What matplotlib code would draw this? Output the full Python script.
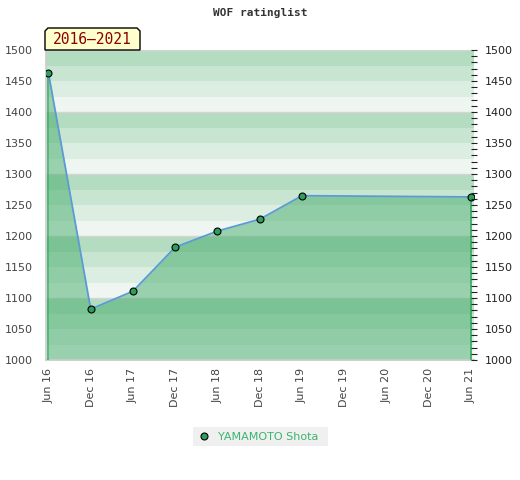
import matplotlib
matplotlib.use("Agg")
import matplotlib.pyplot as plt
from matplotlib.patches import Polygon, Rectangle
from matplotlib.lines import Line2D

# ---- data ----
tick_labels = ["Jun 16", "Dec 16", "Jun 17", "Dec 17", "Jun 18", "Dec 18",
               "Jun 19", "Dec 19", "Jun 20", "Dec 20", "Jun 21"]
point_idx = [0, 1, 2, 3, 4, 5, 6, 10]
ratings = [1463, 1082, 1111, 1182, 1208, 1227, 1265, 1263]
player = "YAMAMOTO Shota"
period = "2016\u20132021"
title = "WOF ratinglist"
y_min, y_max = 1000, 1500

W, H = 520, 480
fig = plt.figure(figsize=(W / 100, H / 100), dpi=100)
fig.patch.set_facecolor("white")

def fx(px):
    return px / W

def fy(py):
    return 1 - py / H

ax = fig.add_axes([fx(45.5), fy(360), fx(474) - fx(45.5), fy(50) - fy(360)])
ax.set_xlim(-0.07, 10.07)
ax.set_ylim(y_min, y_max)

# background bands (25-unit, 4 shades per 100)
shades = ["#eff6f1", "#dcede2", "#c8e5d2", "#b3dcc0"]
for b0 in range(y_min, y_max, 25):
    k = ((b0 - y_min) // 25) % 4
    ax.axhspan(b0, b0 + 25, color=shades[k], lw=0, zorder=0)
for g in range(y_min + 100, y_max + 1, 100):
    ax.axhline(g, color="#d4d4d4", lw=1, zorder=1)

# fill under the line
ax.fill_between(point_idx, ratings, y_min, color=(69 / 255, 172 / 255, 106 / 255),
                alpha=0.5, lw=0, zorder=2)
ax.vlines([point_idx[0], point_idx[-1]], y_min, [ratings[0], ratings[-1]],
          color="#2eaa5a", lw=1.1, zorder=3)
ax.plot(point_idx, ratings, color="#5b9bd5", lw=1.3, zorder=4)
ax.plot(point_idx, ratings, ls="none", marker="o", ms=5, mfc="#2e9e5b",
        mec="black", mew=0.8, zorder=5)

# axes styling
for s in ["top", "right"]:
    ax.spines[s].set_visible(False)
ax.spines["left"].set_color("#cccccc")
ax.spines["bottom"].set_color("#cccccc")
ax.spines["left"].set_linewidth(1.2)
ax.spines["bottom"].set_linewidth(1.2)

ax.set_xticks(range(len(tick_labels)))
ax.set_xticklabels(tick_labels, rotation=90, fontsize=8, color="#444444")
ax.tick_params(axis="x", length=0, pad=6)
yt = list(range(y_min, y_max + 1, 50))
ax.set_yticks(yt)
ax.set_yticklabels([str(v) for v in yt], fontsize=8, color="#444444")
ax.tick_params(axis="y", length=0, pad=9)

ax2 = ax.twinx()
ax2.set_ylim(y_min, y_max)
for s in ax2.spines.values():
    s.set_visible(False)
ax2.set_yticks(yt)
ax2.set_yticklabels([str(v) for v in yt], fontsize=8, color="#222222")
ax2.set_yticks(range(y_min, y_max + 1, 10), minor=True)
ax2.tick_params(axis="y", which="both", direction="inout", length=4, width=0.8,
                color="#222222", pad=6)

# title
fig.text(0.5, fy(13), title, ha="center", va="center", fontsize=8,
         family="DejaVu Sans Mono", fontweight="bold", color="#333333")

# period label box
pts = [(45, 50), (45, 31), (48, 28), (137, 28), (140, 31), (140, 50)]
poly = Polygon([(fx(x), fy(y)) for x, y in pts], closed=True,
               transform=fig.transFigure, facecolor="#ffffcc",
               edgecolor="black", lw=1, zorder=10)
fig.patches.append(poly)
fig.text(fx(92.5), fy(40), period, ha="center", va="center", fontsize=10.5,
         family="DejaVu Sans Mono", color="#8b0000", zorder=11)

# legend
rect = Rectangle((fx(193), fy(446)), fx(328) - fx(193), fy(427) - fy(446),
                 transform=fig.transFigure, facecolor="#f0f0f0", lw=0)
fig.patches.append(rect)
fig.add_artist(Line2D([fx(204)], [fy(436)], ls="none", marker="o", ms=5,
                      mfc="#2e9e5b", mec="black", mew=0.8,
                      transform=fig.transFigure))
fig.text(fx(218), fy(436.5), player, ha="left", va="center", fontsize=8,
         color="#3cb371")

fig.savefig("out.png", dpi=100)
